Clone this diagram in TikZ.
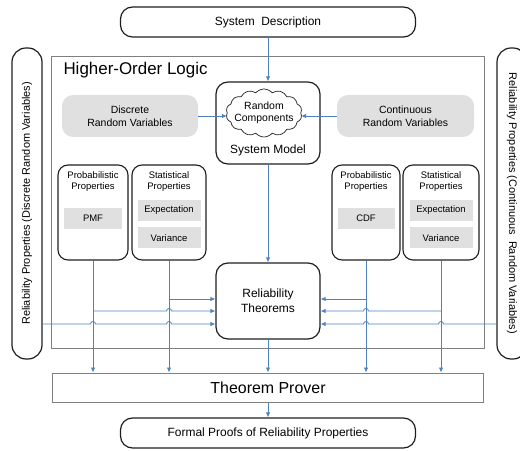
\documentclass[tikz,border=0pt]{standalone}
\usepackage{fontspec}
\setmainfont{Liberation Sans}
\usetikzlibrary{positioning,calc,shapes.symbols,arrows.meta}
\definecolor{flowblue}{RGB}{79,129,189}
\definecolor{boxgray}{RGB}{224,224,224}
\definecolor{framegray}{RGB}{128,128,128}
\definecolor{edgeblack}{RGB}{30,30,30}

\begin{document}
\begin{tikzpicture}[x=1bp,y=-1bp]
\tikzstyle{pill}=[draw=edgeblack,line width=1.2bp,rounded corners=12bp,inner sep=0pt,align=center,font=\fontsize{12}{15}\selectfont]
\tikzstyle{sidepill}=[pill,rounded corners=14bp,minimum width=311bp,minimum height=30bp,font=\fontsize{11}{13}\selectfont]
\tikzstyle{frame}=[draw=framegray,line width=1bp,inner sep=0pt]
\tikzstyle{shaded}=[fill=boxgray,rounded corners=11bp,inner sep=0pt,align=center,font=\fontsize{10.5}{13}\selectfont]
\tikzstyle{propbox}=[draw=edgeblack,line width=1.1bp,rounded corners=10bp,inner sep=0pt,minimum height=95bp]
\tikzstyle{cell}=[fill=boxgray,inner sep=0pt,minimum height=21bp,font=\fontsize{9.5}{11}\selectfont]
\tikzstyle{small}=[align=center,font=\fontsize{9.5}{11}\selectfont]
\tikzstyle{flow}=[draw=flowblue,line width=0.8bp,-{Latex[length=5bp,width=4.5bp]}]
\useasboundingbox (0,0) rectangle (520,451);

% outer frames
\node [pill,minimum width=295bp,minimum height=30bp] (sysdesc) at (268,22) {System\ \ Description};
\node [frame,minimum width=432bp,minimum height=291bp] (hol) at (268,202.5) {};
\node [anchor=west,font=\fontsize{17}{20}\selectfont] (hollabel) at (60,70) {Higher-Order Logic};
\node [sidepill,rotate=90] (discprops) at (27,203.5) {Reliability Properties (Discrete Random Variables)};
\node [sidepill,rotate=-90] (contprops) at (512,203.5) {Reliability Properties (Continuous\ \ Random Variables)};

% system model
\node [pill,minimum width=104bp,minimum height=82bp] (sysmodel) at (268,123) {};
\node [cloud,draw=edgeblack,line width=0.7bp,cloud puffs=14,cloud puff arc=100,minimum width=76bp,minimum height=48bp,inner sep=0pt] (randcomp) at (264,113) {};
\node [align=center,font=\fontsize{10.5}{11.5}\selectfont] (randtext) at (randcomp) {Random\\Components};
\node [font=\fontsize{12}{14}\selectfont] (modellabel) at (268,150) {System Model};
\node [shaded,minimum width=136bp,minimum height=42bp] (discrv) at (130,116) {Discrete\\Random Variables};
\node [shaded,minimum width=137bp,minimum height=42bp] (contrv) at (405.5,116) {Continuous\\Random Variables};

% property boxes
\node [propbox,minimum width=70bp] (lprob) at (93,212.5) {};
\node [propbox,minimum width=74bp] (lstat) at (169,212.5) {};
\node [propbox,minimum width=68bp] (rprob) at (366,212.5) {};
\node [propbox,minimum width=76bp] (rstat) at (441,212.5) {};
\node [small,below=4bp of lprob.north] (lprobtitle) {Probabilistic\\Properties};
\node [small,below=4bp of lstat.north] (lstattitle) {Statistical\\Properties};
\node [small,below=4bp of rprob.north] (rprobtitle) {Probabilistic\\Properties};
\node [small,below=4bp of rstat.north] (rstattitle) {Statistical\\Properties};
\node [cell,minimum width=58bp] (pmf) at (93,218.5) {PMF};
\node [cell,minimum width=57bp] (cdf) at (366,218.5) {CDF};
\node [cell,minimum width=63bp] (lexp) at (169,210.5) {Expectation};
\node [cell,minimum width=63bp,below=6bp of lexp] (lvar) {Variance};
\node [cell,minimum width=63bp] (rexp) at (441,210.5) {Expectation};
\node [cell,minimum width=63bp,below=6bp of rexp] (rvar) {Variance};

% theorems and prover
\node [pill,minimum width=104bp,minimum height=76bp] (relthm) at (268,301) {Reliability\\Theorems};
\node [frame,minimum width=431bp,minimum height=29bp,font=\fontsize{16}{19}\selectfont] (prover) at (268,387.5) {Theorem Prover};
\node [pill,minimum width=295bp,minimum height=30bp] (proofs) at (268,433) {Formal Proofs of Reliability Properties};

\coordinate (rowA) at (0,299);
\coordinate (rowB) at (0,311);
\coordinate (rowC) at (0,324);

\draw[flow] (sysdesc) -- (sysmodel);
\draw[flow] (discrv.east) -- (discrv.east -| randcomp.west);
\draw[flow] (contrv.west) -- (contrv.west -| randcomp.east);
\draw[flow] (sysmodel) -- (relthm);
\draw[flow] (relthm) -- (prover);
\draw[flow] (prover) -- (proofs);
\draw[flow] (lprob.south) -- (lprob.south |- prover.north);
\draw[flow] (lstat.south) -- (lstat.south |- prover.north);
\draw[flow] (rprob.south) -- (rprob.south |- prover.north);
\draw[flow] (rstat.south) -- (rstat.south |- prover.north);

% left side feeds
\draw[flow] (lstat.south |- rowA) -- (relthm.west |- rowA);
\draw[flow] (lprob.south |- rowB)
    -- ($(lstat.south |- rowB)+(-2.5,0)$) .. controls +(0,-3.3) and +(0,-3.3) .. ($(lstat.south |- rowB)+(2.5,0)$)
    -- (relthm.west |- rowB);
\draw[flow] (discprops.south |- rowC)
    -- ($(lprob.south |- rowC)+(-2.5,0)$) .. controls +(0,-3.3) and +(0,-3.3) .. ($(lprob.south |- rowC)+(2.5,0)$)
    -- ($(lstat.south |- rowC)+(-2.5,0)$) .. controls +(0,-3.3) and +(0,-3.3) .. ($(lstat.south |- rowC)+(2.5,0)$)
    -- (relthm.west |- rowC);

% right side feeds
\draw[flow] (rprob.south |- rowA) -- (relthm.east |- rowA);
\draw[flow] (rstat.south |- rowB)
    -- ($(rprob.south |- rowB)+(2.5,0)$) .. controls +(0,-3.3) and +(0,-3.3) .. ($(rprob.south |- rowB)+(-2.5,0)$)
    -- (relthm.east |- rowB);
\draw[flow] (contprops.south |- rowC)
    -- ($(rstat.south |- rowC)+(2.5,0)$) .. controls +(0,-3.3) and +(0,-3.3) .. ($(rstat.south |- rowC)+(-2.5,0)$)
    -- ($(rprob.south |- rowC)+(2.5,0)$) .. controls +(0,-3.3) and +(0,-3.3) .. ($(rprob.south |- rowC)+(-2.5,0)$)
    -- (relthm.east |- rowC);
\end{tikzpicture}
\end{document}
